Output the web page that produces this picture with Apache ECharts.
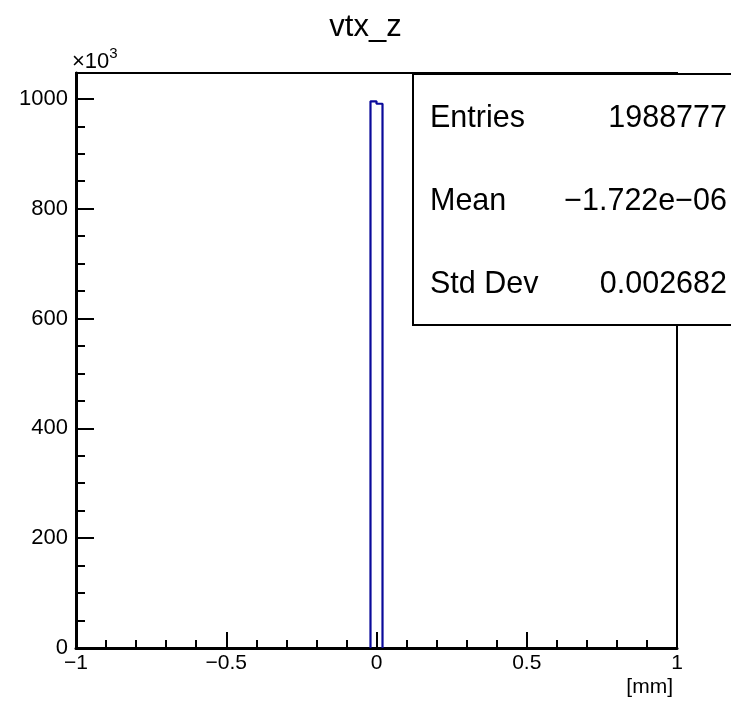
<!DOCTYPE html>
<html>
<head>
<meta charset="utf-8">
<script src="https://cdn.jsdelivr.net/npm/echarts@6/dist/echarts.min.js"></script>
<style>html,body{margin:0;padding:0;background:#fff;}#c{width:731px;height:701px;}</style>
</head>
<body>
<div id="c"></div>
<script>
// Histogram data (counts in units of 10^3)
const binEdges = [-0.02, 0, 0.02];
const counts = [995.5, 991];
const xTicks = [-1, -0.5, 0, 0.5, 1];
const yTicks = [0, 200, 400, 600, 800, 1000];
const statLabels = ['Entries', 'Mean', 'Std Dev'];
const statValues = ['1988777', '\u22121.722e\u221206', '0.002682'];

const FONT = 'Liberation Sans, Arial, Helvetica, sans-serif';

// step outline built from bin edges and counts
const outline = [[binEdges[0], 0]];
for (let i = 0; i < counts.length; i++) {
  outline.push([binEdges[i], counts[i]]);
  outline.push([binEdges[i + 1], counts[i]]);
}
outline.push([binEdges[binEdges.length - 1], 0]);

const fmt = v => String(v).replace('-', '\u2212');

const chart = echarts.init(document.getElementById('c'), null, {renderer: 'canvas'});
const statGraphics = [];
statLabels.forEach((s, i) => {
  const cy = 118 + i * 83;
  statGraphics.push({type: 'text', z: 101, left: 430, top: cy - 15,
    style: {text: s, font: '30.5px ' + FONT, fill: '#000'}});
  statGraphics.push({type: 'text', z: 101, right: 4, top: cy - 15,
    style: {text: statValues[i], font: '30.5px ' + FONT, fill: '#000', textAlign: 'right'}});
});

chart.setOption({
  animation: false,
  title: {text: 'vtx_z', left: 'center', top: 7,
    textStyle: {fontFamily: FONT, fontSize: 31, fontWeight: 'normal', color: '#000'}},
  grid: {left: 76, right: 54, top: 73, bottom: 53, show: true, borderColor: '#000', borderWidth: 2, backgroundColor: 'transparent'},
  xAxis: {
    type: 'value', min: xTicks[0], max: xTicks[xTicks.length - 1], interval: 0.5,
    axisLine: {onZero: false, lineStyle: {color: '#000', width: 3}},
    axisTick: {inside: true, length: 16, lineStyle: {color: '#000', width: 2}},
    minorTick: {show: true, splitNumber: 5, length: 8, lineStyle: {color: '#000', width: 2}},
    splitLine: {show: false},
    axisLabel: {margin: 5, fontFamily: FONT, fontSize: 21, color: '#000', formatter: v => fmt(v)}
  },
  yAxis: [{
    type: 'value', min: 0, max: 1047, interval: 200,
    axisLine: {show: true, onZero: false, lineStyle: {color: '#000', width: 3}},
    axisTick: {show: true, inside: true, length: 18, lineStyle: {color: '#000', width: 2}},
    splitLine: {show: false},
    axisLabel: {margin: 8, fontFamily: FONT, fontSize: 22, color: '#000',
      formatter: v => (yTicks.indexOf(v) >= 0 ? String(v) : '')}
  }, {
    type: 'value', min: 0, max: 1047, interval: 50, position: 'left',
    axisLine: {show: false, onZero: false},
    axisTick: {show: true, inside: true, length: 9, lineStyle: {color: '#000', width: 2}},
    splitLine: {show: false},
    axisLabel: {show: false}
  }],
  series: [{
    type: 'line', data: outline, showSymbol: false, symbol: 'none',
    lineStyle: {color: '#0a0a9a', width: 2.2}, z: 5
  }],
  graphic: [
    {type: 'rect', z: 100, shape: {x: 413, y: 74, width: 330, height: 251},
      style: {fill: '#fff', stroke: '#000', lineWidth: 2}},
    ...statGraphics,
    {type: 'text', z: 101, left: 72, top: 46,
      style: {rich: {a: {fontFamily: FONT, fontSize: 22, fill: '#000', verticalAlign: 'bottom'},
                     b: {fontFamily: FONT, fontSize: 15, fill: '#000', verticalAlign: 'top', padding: [0,0,12,0]}},
              text: '{a|\u00d710}{b|3}'}},
    {type: 'text', z: 101, right: 58, top: 677,
      style: {text: '[mm]', font: '21px ' + FONT, fill: '#000', textAlign: 'right'}}
  ]
});
</script>
</body>
</html>
